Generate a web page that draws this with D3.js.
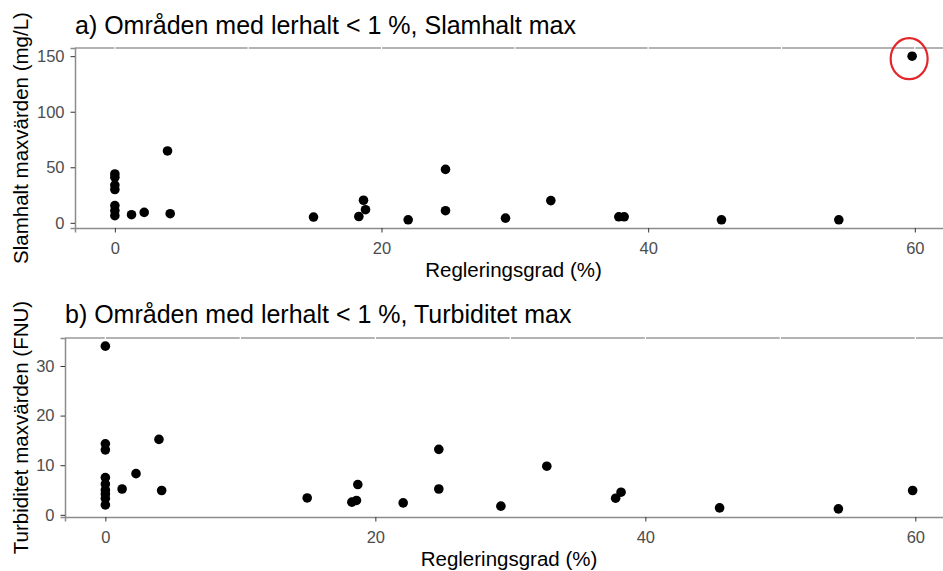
<!DOCTYPE html>
<html>
<head>
<meta charset="utf-8">
<script src="https://cdn.jsdelivr.net/npm/d3@7"></script>
<style>
  html, body { margin: 0; padding: 0; background: #fff; }
  svg { display: block; font-family: "Liberation Sans", Arial, sans-serif; }
</style>
</head>
<body>
<svg id="chart" width="943" height="571"></svg>
<script>
// Regleringsgrad (%) and Slamhalt max (mg/L) per station
const slamX = [0, 0, 0, 0, 0, 0, 0, 1.25, 2.2, 3.95, 4.15, 14.9, 18.3, 18.65, 18.8, 22.0, 24.8, 24.8, 29.3, 32.7, 37.8, 38.2, 45.5, 54.3, 59.8];
const slamY = [44, 41, 34, 30, 15.5, 11, 6.4, 7.3, 9.4, 64.7, 8.2, 5.2, 5.7, 20.3, 11.8, 2.7, 48.1, 10.9, 4.2, 20, 5.4, 5.4, 2.7, 2.7, 150];

// Regleringsgrad (%) and Turbiditet max (FNU) per station
const turbX = [0, 0, 0, 0, 0, 0, 0, 0, 0, 1.24, 2.27, 3.97, 4.17, 14.95, 18.26, 18.6, 18.7, 22.06, 24.7, 24.7, 29.3, 32.7, 37.8, 38.2, 45.5, 54.3, 59.8];
const turbY = [34, 14.3, 13.1, 7.5, 6.2, 5.0, 4.2, 3.3, 2.0, 5.2, 8.3, 15.2, 4.9, 3.4, 2.55, 2.9, 6.1, 2.4, 13.2, 5.2, 1.75, 9.8, 3.35, 4.56, 1.4, 1.2, 4.9];

const xTicks = [0, 20, 40, 60];
const slamTicks = [0, 50, 100, 150];
const turbTicks = [0, 10, 20, 30];

const titles = ["a) Områden med lerhalt < 1 %, Slamhalt max", "b) Områden med lerhalt < 1 %, Turbiditet max"];
const yTitles = ["Slamhalt maxvärden (mg/L)", "Turbiditet maxvärden (FNU)"];
const xTitle = "Regleringsgrad (%)";

const svg = d3.select("#chart");

// ggplot-style 5% expansion of a data extent
function expand(vals) {
  const [lo, hi] = d3.extent(vals);
  const pad = (hi - lo) * 0.05;
  return [lo - pad, hi + pad];
}

const panels = [
  { xs: slamX, ys: slamY, yTicks: slamTicks, title: titles[0], yTitle: yTitles[0],
    left: 75, top: 48, width: 877, height: 180, titleY: 34, highlight: true },
  { xs: turbX, ys: turbY, yTicks: turbTicks, title: titles[1], yTitle: yTitles[1],
    left: 65, top: 338, width: 888, height: 179, titleY: 322.5, highlight: false }
];

panels.forEach(p => {
  const x = d3.scaleLinear().domain(expand(p.xs)).range([p.left, p.left + p.width]);
  const y = d3.scaleLinear().domain(expand(p.ys)).range([p.top + p.height, p.top]);
  const g = svg.append("g");

  // grey top border
  g.append("line")
    .attr("x1", p.left).attr("x2", p.left + p.width)
    .attr("y1", p.top).attr("y2", p.top)
    .attr("stroke", "#9a9a9a").attr("stroke-width", 1.5);

  // white vertical grid lines (major + minor)
  g.selectAll("line.grid")
    .data(d3.range(0, 70, 10))
    .join("line")
    .attr("class", "grid")
    .attr("x1", d => x(d)).attr("x2", d => x(d))
    .attr("y1", p.top - 1).attr("y2", p.top + p.height)
    .attr("stroke", "#fff").attr("stroke-width", 1.2);

  // x axis
  const xAxis = g.append("g")
    .attr("transform", `translate(0,${p.top + p.height})`)
    .call(d3.axisBottom(x).tickValues(xTicks).tickSize(4.5).tickPadding(9.5).tickFormat(d3.format("d")));
  xAxis.select(".domain").attr("stroke", "#8c8c8c").attr("stroke-width", 1.5);
  xAxis.selectAll(".tick line").attr("stroke", "#333").attr("stroke-width", 1);
  xAxis.selectAll(".tick text")
    .attr("fill", "#4d4d4d").attr("font-size", "16.5px")
    .attr("font-family", "Liberation Sans, Arial, sans-serif");

  // y axis
  const yAxis = g.append("g")
    .attr("transform", `translate(${p.left},0)`)
    .call(d3.axisLeft(y).tickValues(p.yTicks).tickSize(4.5).tickPadding(6).tickFormat(d3.format("d")));
  yAxis.select(".domain").attr("stroke", "#8c8c8c").attr("stroke-width", 1.5);
  yAxis.selectAll(".tick line").attr("stroke", "#333").attr("stroke-width", 1);
  yAxis.selectAll(".tick text")
    .attr("fill", "#4d4d4d").attr("font-size", "16.5px")
    .attr("font-family", "Liberation Sans, Arial, sans-serif");

  // points
  g.selectAll("circle.pt")
    .data(p.xs.map((d, i) => [d, p.ys[i]]))
    .join("circle")
    .attr("class", "pt")
    .attr("cx", d => x(d[0])).attr("cy", d => y(d[1]))
    .attr("r", 4.8).attr("fill", "#000");

  // red ring around the highest value
  if (p.highlight) {
    const iMax = d3.maxIndex(p.ys);
    g.append("ellipse")
      .attr("cx", x(p.xs[iMax]) - 3).attr("cy", y(p.ys[iMax]) + 2.5)
      .attr("rx", 18.5).attr("ry", 20.5)
      .attr("fill", "none").attr("stroke", "#e3262a").attr("stroke-width", 2.2);
  }

  // panel title
  g.append("text")
    .attr("x", p.left).attr("y", p.titleY)
    .attr("font-size", "25px").attr("fill", "#000")
    .text(p.title);

  // x axis title
  g.append("text")
    .attr("x", p.left + p.width / 2).attr("y", p.top + p.height + 48.5)
    .attr("text-anchor", "middle")
    .attr("font-size", "20.5px").attr("fill", "#000")
    .text(xTitle);

  // y axis title
  g.append("text")
    .attr("transform", `translate(28,${p.top + p.height / 2}) rotate(-90)`)
    .attr("text-anchor", "middle")
    .attr("font-size", "20.5px").attr("fill", "#000")
    .text(p.yTitle);
});
</script>
</body>
</html>
